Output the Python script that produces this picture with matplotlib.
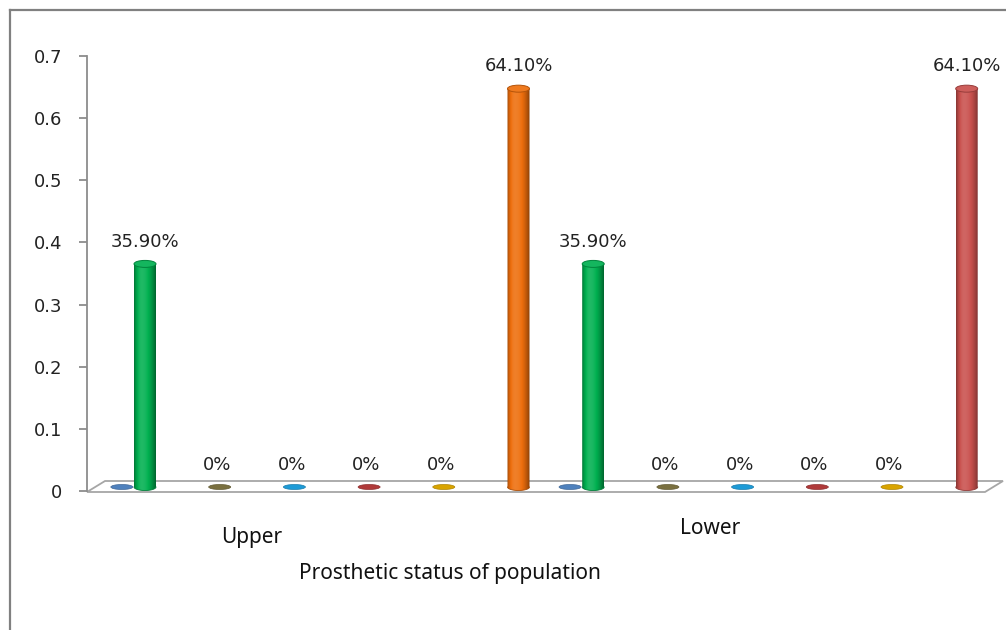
import numpy as np
import matplotlib
matplotlib.use("Agg")
import matplotlib.pyplot as plt
from matplotlib.patches import Ellipse, Polygon, PathPatch
from matplotlib.path import Path
from matplotlib.colors import to_rgb
from matplotlib.lines import Line2D

# ---------------- data ----------------
groups = ["Upper", "Lower"]
series = ["S0", "S1", "S2", "S3", "S4", "S5", "S6"]
upper_values = [0.0, 0.359, 0.0, 0.0, 0.0, 0.0, 0.641]
lower_values = [0.0, 0.359, 0.0, 0.0, 0.0, 0.0, 0.641]
upper_labels = [None, "35.90%", "0%", "0%", "0%", "0%", "64.10%"]
lower_labels = [None, "35.90%", "0%", "0%", "0%", "0%", "64.10%"]
upper_colors = ["#4F81BD", "#00B050", "#7A7040", "#1E9BD7", "#B03A3A", "#D9A400", "#EE6E0C"]
lower_colors = ["#4F81BD", "#00B050", "#7A7040", "#1E9BD7", "#B03A3A", "#D9A400", "#C9504D"]
yticks = [0, 0.1, 0.2, 0.3, 0.4, 0.5, 0.6, 0.7]
ytick_labels = ["0", "0.1", "0.2", "0.3", "0.4", "0.5", "0.6", "0.7"]
xlabel = "Prosthetic status of population"

values = [upper_values, lower_values]
labels = [upper_labels, lower_labels]
colors = [upper_colors, lower_colors]

# ---------------- layout ----------------
W, H = 1006, 630
fig = plt.figure(figsize=(W / 100, H / 100), dpi=100)
fig.patch.set_facecolor("white")

ax_left_px, ax_right_px = 87, 1003
ax_bot_px, ax_top_px = 491, 56  # from top
ax = fig.add_axes([ax_left_px / W, (H - ax_bot_px) / H,
                   (ax_right_px - ax_left_px) / W, (ax_bot_px - ax_top_px) / H])
px_per_x = 74.7
x0 = -(145 - ax_left_px) / px_per_x
x1 = x0 + (ax_right_px - ax_left_px) / px_per_x
ax.set_xlim(x0, x1)
ax.set_ylim(0, 0.7)
px_per_y = (ax_bot_px - ax_top_px) / 0.7

for s in ["top", "right", "bottom"]:
    ax.spines[s].set_visible(False)
ax.spines["left"].set_color("#8C8C8C")
ax.spines["left"].set_linewidth(1.3)
ax.set_xticks([])
ax.set_yticks(yticks)
ax.set_yticklabels(ytick_labels, fontsize=13, family="DejaVu Sans", color="#222222")
ax.tick_params(axis="y", direction="out", length=6, width=1.3, color="#8C8C8C", pad=12)
ax.patch.set_alpha(0)

# floor (3D base plate)
fy_front = -1.0 / px_per_y
fy_back = 10.0 / px_per_y
dx_depth = 18.0 / px_per_x
floor = Polygon([[x0, fy_front], [x0 + dx_depth, fy_back], [x1, fy_back],
                 [x1 - dx_depth, fy_front]], closed=True, facecolor="white",
                edgecolor="#A6A6A6", linewidth=1.3, clip_on=False, zorder=1)
ax.add_patch(floor)

base = 4.0 / px_per_y
bar_w = 22.0 / px_per_x
ell_h = 7.0 / px_per_y
zero_w = 22.0 / px_per_x
zero_h = 5.0 / px_per_y
group_step = 6
slot_pos = [-0.31, 0, 1, 2, 3, 4, 5]


def shade(c, k):
    c = np.array(c)
    if k <= 1:
        return c * k
    return c + (1 - c) * (k - 1)


def cylinder(xc, v, col):
    rgb = to_rgb(col)
    n = 60
    t = np.linspace(0, 1, n)
    k = 1.12 - 0.55 * ((t - 0.35) / 0.65) ** 2
    k = np.where(t < 0.35, 1.12 - 0.45 * ((0.35 - t) / 0.35) ** 2, k)
    img = np.array([shade(rgb, kk) for kk in k])[None, :, :]
    xl, xr = xc - bar_w / 2, xc + bar_w / 2
    yb, yt = base, base + v
    th = np.linspace(np.pi, 2 * np.pi, 40)
    bx = xc + bar_w / 2 * np.cos(th)
    by = yb + ell_h / 2 * np.sin(th)
    verts = [(xl, yt)] + list(zip(bx, by)) + [(xr, yt), (xl, yt)]
    clip = Path(verts, closed=True)
    pp = PathPatch(clip, transform=ax.transData, facecolor="none", edgecolor="none")
    ax.add_patch(pp)
    im = ax.imshow(img, extent=[xl, xr, yb - ell_h, yt], aspect="auto",
                   interpolation="bilinear", zorder=3, origin="lower")
    im.set_clip_path(pp)
    ax.add_line(Line2D(list(bx), list(by), color=shade(rgb, 0.7), lw=0.6, zorder=3.1))
    top = Ellipse((xc, yt), bar_w, ell_h, facecolor=shade(rgb, 1.08),
                  edgecolor=shade(rgb, 0.75), linewidth=0.7, zorder=4)
    ax.add_patch(top)


for g in range(len(groups)):
    for i in range(len(series)):
        xc = g * group_step + slot_pos[i]
        v = values[g][i]
        col = colors[g][i]
        if v > 0:
            cylinder(xc, v, col)
        else:
            e = Ellipse((xc, base), zero_w, zero_h, facecolor=col,
                        edgecolor=shade(to_rgb(col), 0.8), linewidth=0.5,
                        zorder=2.5 if i == 0 else 3)
            ax.add_patch(e)
        lab = labels[g][i]
        if lab:
            ytop = base + v + (ell_h / 2 if v > 0 else 0)
            ax.annotate(lab, (xc, ytop), xytext=(-2 if v == 0 else 0, 7 if v > 0 else 9),
                        textcoords="offset points", ha="center", va="bottom",
                        fontsize=13, family="DejaVu Sans", color="#222222",
                        annotation_clip=False, zorder=5)

# category labels and axis title
cat_font = "Noto Sans"
fig.text(252 / W, 1 - 537 / H, groups[0], ha="center", va="center",
         fontsize=15, family=cat_font, color="#111111")
fig.text(710 / W, 1 - 528 / H, groups[1], ha="center", va="center",
         fontsize=15, family=cat_font, color="#111111")
fig.text(450 / W, 1 - 573 / H, xlabel, ha="center", va="center",
         fontsize=15, family=cat_font, color="#111111")

# outer frame (top and left visible)
fig.add_artist(Line2D([10 / W, 1], [1 - 10 / H, 1 - 10 / H], transform=fig.transFigure,
                      color="#808080", lw=1.6))
fig.add_artist(Line2D([10 / W, 10 / W], [0, 1 - 10 / H], transform=fig.transFigure,
                      color="#808080", lw=1.6))

fig.savefig("out.png", dpi=100, facecolor="white")
